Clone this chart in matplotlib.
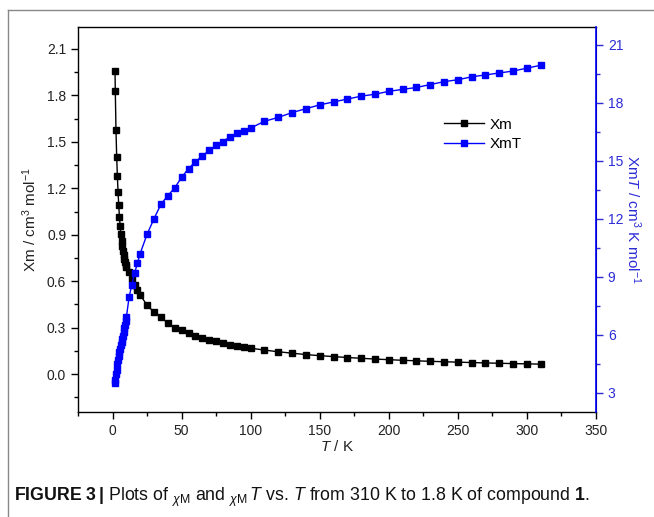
import matplotlib
matplotlib.use("Agg")
import matplotlib.pyplot as plt
from matplotlib.lines import Line2D
from matplotlib.ticker import MultipleLocator, FormatStrFormatter

plt.rcParams['font.family'] = ['Liberation Sans', 'DejaVu Sans']
plt.rcParams['mathtext.fontset'] = 'custom'
plt.rcParams['mathtext.rm'] = 'Liberation Sans'
plt.rcParams['mathtext.it'] = 'Liberation Sans:italic'
plt.rcParams['mathtext.bf'] = 'Liberation Sans:bold'

# ---- data ----
T = [1.8, 2, 2.5, 3, 3.5, 4, 4.5, 5, 5.5, 6, 6.5, 7, 7.5, 8, 8.5, 9, 9.5, 10,
     12, 14, 16, 18, 20, 25, 30, 35, 40, 45, 50, 55, 60, 65, 70, 75, 80, 85,
     90, 95, 100, 110, 120, 130, 140, 150, 160, 170, 180, 190, 200, 210, 220,
     230, 240, 250, 260, 270, 280, 290, 300, 310]

Xm = [1.955, 1.83, 1.575, 1.405, 1.28, 1.175, 1.09, 1.015, 0.955, 0.905, 0.86,
      0.825, 0.795, 0.77, 0.745, 0.725, 0.705, 0.69,
      0.66, 0.614, 0.575, 0.54, 0.51, 0.446, 0.40, 0.366, 0.33, 0.30, 0.283,
      0.265, 0.249, 0.235, 0.222, 0.211, 0.20, 0.191, 0.183, 0.174, 0.167,
      0.155, 0.144, 0.135, 0.126, 0.119, 0.113, 0.107, 0.102, 0.097, 0.093,
      0.089, 0.0855, 0.0825, 0.0795, 0.077, 0.0745, 0.072, 0.0698, 0.0677,
      0.066, 0.0643]

XmT = [3.5, 3.65, 3.95, 4.2, 4.5, 4.7, 4.9, 5.1, 5.25, 5.45, 5.6, 5.8, 5.95,
       6.15, 6.35, 6.5, 6.7, 6.9,
       7.95, 8.6, 9.2, 9.7, 10.2, 11.2, 12.0, 12.75, 13.2, 13.6, 14.15, 14.6,
       14.95, 15.25, 15.55, 15.8, 16.0, 16.25, 16.45, 16.55, 16.7,
       17.05, 17.25, 17.5, 17.7, 17.9, 18.05, 18.2, 18.35, 18.45, 18.6, 18.7,
       18.8, 18.95, 19.1, 19.2, 19.35, 19.45, 19.55, 19.65, 19.8, 19.95]

x_ticks = [0, 50, 100, 150, 200, 250, 300, 350]
left_ticks = [0.0, 0.3, 0.6, 0.9, 1.2, 1.5, 1.8, 2.1]
right_ticks = [3, 6, 9, 12, 15, 18, 21]

BLUE = '#0000ff'
AXBLUE = '#2b2bd6'

fig = plt.figure(figsize=(6.54, 5.17), dpi=100)
ax = fig.add_axes([78/654, 1-412/517, (596-78)/654, (412-27)/517])
ax2 = ax.twinx()

l1, = ax.plot(T, Xm, color='black', marker='s', markersize=4.8, lw=1.0,
              label='Xm', zorder=3)
l2, = ax2.plot(T, XmT, color=BLUE, marker='s', markersize=4.8, lw=1.0,
               label='XmT', zorder=3)

ax.set_xlim(-25, 350)
ax.set_ylim(-0.245, 2.242)
ax2.set_ylim(2.0, 21.93)

ax.set_xticks(x_ticks)
ax.xaxis.set_minor_locator(MultipleLocator(25))
ax.set_yticks(left_ticks)
ax.yaxis.set_major_formatter(FormatStrFormatter('%.1f'))
ax.yaxis.set_minor_locator(MultipleLocator(0.15))
ax2.set_yticks(right_ticks)
ax2.yaxis.set_minor_locator(MultipleLocator(1.5))

for a in (ax, ax2):
    a.tick_params(which='major', direction='out', length=5, width=1.0,
                  labelsize=10)
    a.tick_params(which='minor', direction='out', length=3, width=1.0)

ax.tick_params(axis='both', colors='black', labelcolor='#222222')
ax.tick_params(axis='x', which='both', top=False)
ax2.tick_params(axis='y', which='both', colors=AXBLUE, labelcolor=AXBLUE)

for s in ('left', 'bottom', 'top'):
    ax.spines[s].set_linewidth(1.0)
    ax.spines[s].set_color('black')
ax2.spines['right'].set_color(BLUE)
ax2.spines['right'].set_linewidth(1.2)
ax2.spines['left'].set_visible(False)
ax2.spines['top'].set_visible(False)
ax2.spines['bottom'].set_visible(False)

ax.set_xlabel(r'$T$ / K', fontsize=11, color='#222222', labelpad=1)
ax.set_ylabel(r'Xm / cm$^{3}$ mol$^{-1}$', fontsize=11, color='#222222',
              labelpad=6)
ax2.set_ylabel(r'Xm$T$ / cm$^{3}$ K mol$^{-1}$', fontsize=11, color=AXBLUE,
               rotation=270, labelpad=14)

leg = ax.legend(handles=[l1, l2], loc='upper left',
                bbox_to_anchor=(0.68, 0.80), frameon=False, fontsize=11,
                handlelength=2.6, handletextpad=0.4, labelspacing=0.35)

# outer frame of the figure panel
fig.add_artist(Line2D([8/654, 8/654], [0, 1-10/517], color='#888888', lw=1.0,
                      transform=fig.transFigure))
fig.add_artist(Line2D([8/654, 1], [1-10/517, 1-10/517], color='#888888',
                      lw=1.0, transform=fig.transFigure))

fig.text(14/654, 1-497/517,
         r'$\mathbf{FIGURE\ 3\,|}$ Plots of $_{\chi\mathrm{M}}$ and '
         r'$_{\chi\mathrm{M}}\,T$ vs. $T$ from 310 K to 1.8 K of compound '
         r'$\mathbf{1}$.',
         fontsize=12.8, color='#111111', va='center', ha='left')

fig.savefig('out.png', dpi=100, facecolor='white')
